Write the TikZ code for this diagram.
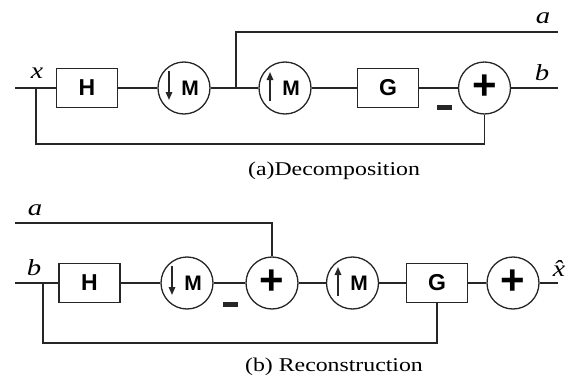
\documentclass[tikz,border=0pt]{standalone}
\usepackage{graphicx}
\usepackage{fontspec}
\setmainfont{Liberation Serif}
\newfontfamily\blocksans{Liberation Sans}
\usetikzlibrary{arrows.meta}

\begin{document}
\begin{tikzpicture}[x=1pt,y=-1pt,
  wire/.style={draw=black!85, line width=1.2pt},
  blk/.style={draw=black!85, line width=1.3pt, minimum width=61pt, minimum height=39pt, inner sep=0pt, font=\blocksans\bfseries\fontsize{23}{23}\selectfont},
  rnd/.style={draw=black!85, circle, line width=1.3pt, minimum size=52pt, inner sep=0pt},
  mtxt/.style={inner sep=0pt, font=\blocksans\bfseries\fontsize{21}{21}\selectfont},
  plustxt/.style={inner sep=0pt, font=\blocksans\bfseries\fontsize{42}{42}\selectfont},
  samp/.style={draw=black!85, line width=1.6pt, -{Triangle[length=8pt,width=6.5pt]}},
  lbl/.style={font=\fontsize{23}{23}\selectfont\itshape, inner sep=0pt},
  captxt/.style={font=\fontsize{19.5}{19.5}\selectfont, inner sep=0pt},
  minusbar/.style={fill=black!85, minimum width=15pt, minimum height=5pt, inner sep=0pt}
]
\useasboundingbox (0,0) rectangle (571,380);

% ---------- (a) Decomposition ----------
\coordinate (inA) at (15,88);
\coordinate (sA) at (36,88);
\node[blk] (H1) at (87,88) {H};
\node[rnd] (dM1) at (184,88) {};
\coordinate (bA) at (236,88);
\node[rnd] (uM1) at (285,88) {};
\node[blk] (G1) at (388,88) {G};
\node[rnd] (sum1) at (484.5,88) {};
\node[plustxt] (p1) at ([yshift=1pt]sum1.center) {+};
\coordinate (outB) at (558,88);
\coordinate (cA) at (236,32);
\coordinate (outA) at (558,32);
\coordinate (fA) at (36,144);

\node[mtxt] (m1) at ([xshift=6pt]dM1.center) {M};
\draw[samp] ([xshift=-15pt,yshift=17pt]dM1.center) -- ([xshift=-15pt,yshift=-12pt]dM1.center);
\node[mtxt] (m2) at ([xshift=6pt]uM1.center) {M};
\draw[samp] ([xshift=-15pt,yshift=-13pt]uM1.center) -- ([xshift=-15pt,yshift=16pt]uM1.center);

\draw[wire] (inA) -- (H1.west);
\draw[wire] (H1) -- (dM1);
\draw[wire] (dM1) -- (uM1);
\draw[wire] (uM1) -- (G1);
\draw[wire] (G1) -- (sum1);
\draw[wire] (sum1) -- (outB);
\draw[wire] (bA) -- (cA) -- (outA);
\draw[wire] (sA) -- (fA) -| (sum1.south);

\node[lbl] (lx) at (37,73) {\scalebox{1.2}[1]{x}};
\node[lbl] (la1) at (543,18) {\scalebox{1.25}[1]{a}};
\node[lbl] (lb1) at (542,73) {\scalebox{1.25}[1]{b}};
\node[minusbar] (mn1) at (444.5,107.5) {};
\node[captxt] (capA) at (334,171) {\scalebox{1.22}[1]{(a)Decomposition}};

% ---------- (b) Reconstruction ----------
\coordinate (aIn) at (15,223);
\coordinate (inB) at (15,283);
\coordinate (sB) at (43,283);
\node[blk] (H2) at (89.5,283) {H};
\node[rnd] (dM2) at (187,283) {};
\node[rnd] (sum2) at (272,283) {};
\node[plustxt] (p2) at ([yshift=1pt]sum2.center) {+};
\node[rnd] (uM2) at (352.5,283) {};
\node[blk] (G2) at (437,283) {G};
\node[rnd] (sum3) at (513,283) {};
\node[plustxt] (p3) at ([yshift=1pt]sum3.center) {+};
\coordinate (outX) at (558,283);
\coordinate (fB) at (43,343);

\node[mtxt] (m3) at ([xshift=6pt]dM2.center) {M};
\draw[samp] ([xshift=-15pt,yshift=17pt]dM2.center) -- ([xshift=-15pt,yshift=-12pt]dM2.center);
\node[mtxt] (m4) at ([xshift=6.5pt]uM2.center) {M};
\draw[samp] ([xshift=-14.5pt,yshift=-13pt]uM2.center) -- ([xshift=-14.5pt,yshift=16pt]uM2.center);

\draw[wire] (inB) -- (H2.west);
\draw[wire] (H2) -- (dM2);
\draw[wire] (dM2) -- (sum2);
\draw[wire] (sum2) -- (uM2);
\draw[wire] (uM2) -- (G2);
\draw[wire] (G2) -- (sum3);
\draw[wire] (sum3) -- (outX);
\draw[wire] (aIn) -| (sum2.north);
\draw[wire] (sB) -- (fB) -| (G2.south);

\node[lbl] (la2) at (35,210) {\scalebox{1.25}[1]{a}};
\node[lbl] (lb2) at (34,268) {\scalebox{1.25}[1]{b}};
\node[lbl, anchor=base] (lxh) at (559,276) {\scalebox{1.2}[1]{\^{x}}};
\node[minusbar] (mn2) at (230.5,304.5) {};
\node[captxt] (capB) at (334,367) {\scalebox{1.22}[1]{(b) Reconstruction}};
\end{tikzpicture}
\end{document}
